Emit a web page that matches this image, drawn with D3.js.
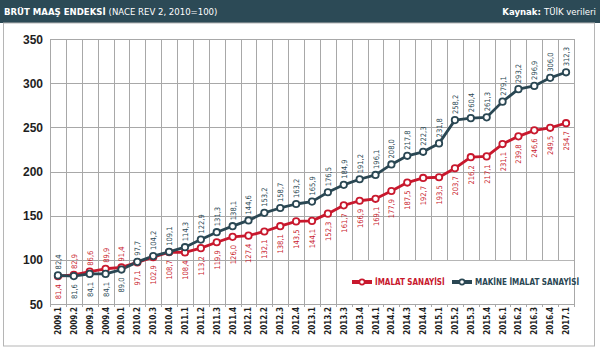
<!DOCTYPE html>
<html lang="tr">
<head>
    <meta charset="UTF-8">
    <title>Brüt Maaş Endeksi</title>
    <script src="https://cdnjs.cloudflare.com/ajax/libs/d3/7.8.5/d3.min.js"></script>
    <style>
        body { margin: 0; background: #fff; }
        .cond { font-family: 'DejaVu Sans Condensed', 'DejaVu Sans', sans-serif; font-stretch: condensed; }
        .grid line { stroke: #a8a8a8; stroke-width: 1px; shape-rendering: crispEdges; }
        .ylab { font: bold 12px 'Liberation Sans', Arial, sans-serif; fill: #1e1e1e; }
        .xlab { font-size: 8px; font-weight: bold; fill: #1e1e1e; }
        .val { font-size: 7.5px; }
    </style>
</head>
<body>
    <div id="chart"></div>

    <script>
        // dönemler (çeyrekler)
        const periods = ["2009.1","2009.2","2009.3","2009.4","2010.1","2010.2","2010.3","2010.4",
            "2011.1","2011.2","2011.3","2011.4","2012.1","2012.2","2012.3","2012.4",
            "2013.1","2013.2","2013.3","2013.4","2014.1","2014.2","2014.3","2014.4",
            "2015.1","2015.2","2015.3","2015.4","2016.1","2016.2","2016.3","2016.4","2017.1"];

        // İmalat sanayisi
        const imalat = [81.4, 82.9, 86.6, 89.9, 91.4, 97.1, 102.9, 108.7,
            108.4, 113.2, 119.9, 126.0, 127.4, 132.1, 138.1, 143.5,
            144.1, 152.3, 161.7, 166.9, 169.1, 177.9, 187.5, 192.7,
            193.5, 203.7, 216.2, 217.1, 231.1, 239.8, 246.6, 249.5, 254.7];

        // Makine imalat sanayisi
        const makine = [82.4, 81.6, 84.1, 84.1, 89.0, 97.7, 104.2, 109.1,
            114.3, 122.9, 131.3, 138.1, 144.6, 153.2, 158.7, 163.2,
            165.9, 176.5, 184.9, 191.2, 196.1, 208.0, 217.8, 222.3,
            231.8, 258.2, 260.4, 261.3, 279.1, 293.2, 296.9, 306.0, 312.3];

        const yTicks = [50, 100, 150, 200, 250, 300, 350];

        const RED = "#c8182d", DARK = "#2a4753";
        const width = 600, height = 351;

        const svg = d3.select("#chart").append("svg")
            .attr("width", width)
            .attr("height", height);

        // başlık şeridi
        svg.append("rect").attr("x", 0).attr("y", 0).attr("width", width).attr("height", 23)
            .attr("fill", "#2c4a56");
        const title = svg.append("text").attr("class", "cond")
            .attr("x", 4).attr("y", 15).attr("fill", "#fff").attr("font-size", 9.5);
        title.append("tspan").attr("font-weight", "bold").text("BRÜT MAAŞ ENDEKSİ ");
        title.append("tspan").text("(NACE REV 2, 2010=100)");
        const src = svg.append("text").attr("class", "cond")
            .attr("x", 596).attr("y", 15).attr("fill", "#fff").attr("font-size", 9.5)
            .attr("text-anchor", "end");
        src.append("tspan").attr("font-weight", "bold").text("Kaynak: ");
        src.append("tspan").text("TÜİK verileri");

        // dış çerçeve
        svg.append("rect").attr("x", 3.5).attr("y", 23).attr("width", 591).attr("height", 323)
            .attr("fill", "none").attr("stroke", "#b5b5b5");

        const x = d3.scaleBand().domain(periods).range([50, 574]);
        const y = d3.scaleLinear().domain([50, 350]).range([304, 39]);
        const cx = (d, i) => x(periods[i]) + x.bandwidth() / 2;

        // ızgara
        const grid = svg.append("g").attr("class", "grid");
        grid.selectAll(".h").data(yTicks).enter().append("line")
            .attr("x1", 50).attr("x2", 574)
            .attr("y1", d => Math.round(y(d)) + 0.5).attr("y2", d => Math.round(y(d)) + 0.5);
        const bounds = periods.map(p => x(p)).concat([574]);
        grid.selectAll(".v").data(bounds).enter().append("line")
            .attr("x1", d => Math.round(d) + 0.5).attr("x2", d => Math.round(d) + 0.5)
            .attr("y1", y(350)).attr("y2", y(50) + 3);

        // y ekseni
        svg.selectAll(".ylab").data(yTicks).enter().append("text")
            .attr("class", "ylab")
            .attr("x", 43).attr("y", d => y(d) + 4.5)
            .attr("text-anchor", "end")
            .text(d => d);

        // x ekseni
        svg.selectAll(".xlab").data(periods).enter().append("text")
            .attr("class", "xlab cond")
            .attr("transform", p => "translate(" + (x(p) + x.bandwidth() / 2 + 3) + "," + 307 + ") rotate(-90)")
            .attr("text-anchor", "end")
            .text(p => p);

        // lejant
        svg.append("rect").attr("x", 338).attr("y", y(100) + 1).attr("width", 235.5).attr("height", y(50) - y(100) - 1)
            .attr("fill", "#fff");
        const legend = [
            { name: "İMALAT SANAYİSİ", color: RED, x: 352 },
            { name: "MAKİNE İMALAT SANAYİSİ", color: DARK, x: 452 }
        ];
        const lg = svg.selectAll(".lg").data(legend).enter().append("g")
            .attr("transform", d => "translate(" + d.x + ",282)");
        lg.append("line").attr("x1", 0).attr("x2", 20).attr("stroke", d => d.color).attr("stroke-width", 4);
        lg.append("circle").attr("cx", 10).attr("r", 2.6).attr("fill", "#fff")
            .attr("stroke", d => d.color).attr("stroke-width", 1.6);
        lg.append("text").attr("class", "cond").attr("x", 23).attr("y", 3)
            .attr("font-size", 8).attr("font-weight", "bold").attr("fill", d => d.color)
            .text(d => d.name);

        // çizgiler
        const line = d3.line().x(cx).y(d => y(d));
        const series = [
            { values: imalat, other: makine, color: RED },
            { values: makine, other: imalat, color: DARK }
        ];
        series.forEach(s => {
            svg.append("path").datum(s.values)
                .attr("fill", "none").attr("stroke", s.color).attr("stroke-width", 2.8)
                .attr("stroke-linejoin", "round")
                .attr("d", line);
        });
        series.forEach(s => {
            svg.selectAll(null).data(s.values).enter().append("circle")
                .attr("cx", cx).attr("cy", d => y(d)).attr("r", 3.2)
                .attr("fill", "#fff").attr("stroke", s.color).attr("stroke-width", 1.8);
        });

        // değer etiketleri: büyük olan üstte, küçük olan altta
        series.forEach(s => {
            svg.selectAll(null).data(s.values).enter().append("text")
                .attr("class", "val cond")
                .attr("fill", s.color)
                .attr("transform", (d, i) => {
                    const above = d >= s.other[i];
                    const ty = above ? y(d) - 6 : y(d) + 8;
                    return "translate(" + (cx(d, i) + 3) + "," + ty + ") rotate(-90)";
                })
                .attr("text-anchor", (d, i) => d >= s.other[i] ? "start" : "end")
                .text(d => d.toFixed(1).replace(".", ","));
        });
    </script>
</body>
</html>
